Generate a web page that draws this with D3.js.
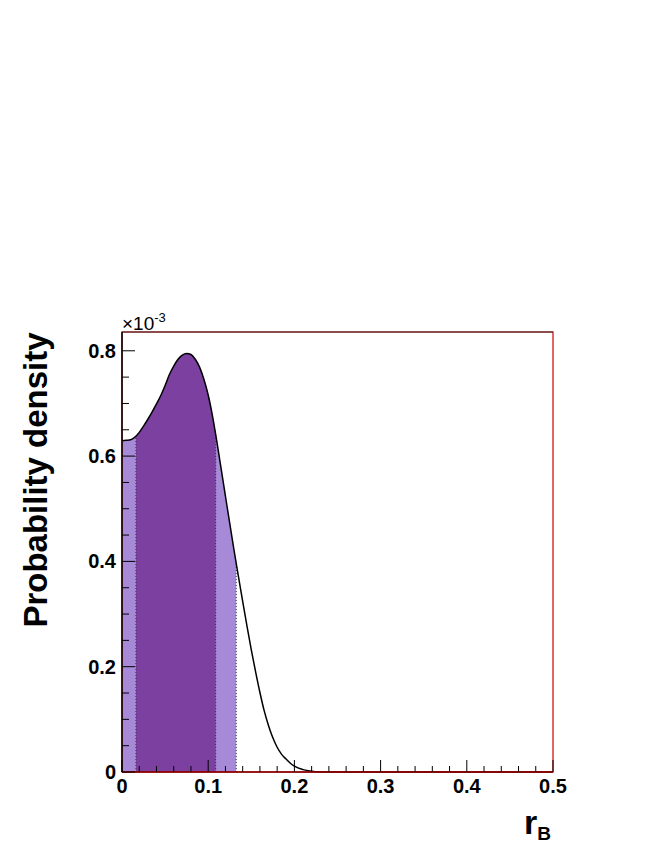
<!DOCTYPE html>
<html>
<head>
<meta charset="utf-8">
<script src="https://cdn.jsdelivr.net/npm/d3@7"></script>
<style>
  body { margin: 0; background: #fff; }
  text { font-family: "Liberation Sans", Arial, sans-serif; font-weight: bold; }
</style>
</head>
<body>
<svg width="664" height="860"></svg>
<script>
// r_B values and posterior density (units of 1e-3)
var rB = [0, 0.005, 0.01, 0.015, 0.02, 0.025, 0.03, 0.035, 0.04, 0.045, 0.05, 0.055, 0.06, 0.065,
  0.07, 0.075, 0.08, 0.085, 0.09, 0.095, 0.1, 0.105, 0.11, 0.115, 0.12, 0.125, 0.13, 0.135,
  0.14, 0.145, 0.15, 0.155, 0.16, 0.165, 0.17, 0.175, 0.18, 0.185, 0.19, 0.195, 0.2, 0.21,
  0.22, 0.23, 0.24, 0.3, 0.4, 0.5];
var density = [0.629, 0.630, 0.631, 0.636, 0.645, 0.657, 0.670, 0.684, 0.699, 0.715, 0.734, 0.755, 0.771, 0.784,
  0.792, 0.795, 0.793, 0.784, 0.769, 0.746, 0.716, 0.676, 0.628, 0.576, 0.524, 0.472, 0.421, 0.372,
  0.324, 0.277, 0.232, 0.190, 0.151, 0.116, 0.088, 0.065, 0.047, 0.034, 0.025, 0.017, 0.011, 0.0045,
  0.0015, 0.0003, 0, 0, 0, 0];

// credible intervals: [from, to]
var band95 = [0, 0.1325];
var band68 = [0.0162, 0.1087];

var xTicks = [0, 0.1, 0.2, 0.3, 0.4, 0.5];
var yTicks = [0, 0.2, 0.4, 0.6, 0.8];

var svg = d3.select("svg");
var pLeft = 122, pRight = 553, pTop = 332, pBottom = 772;

var x = d3.scaleLinear().domain([0, 0.5]).range([pLeft, pRight]);
var y = d3.scaleLinear().domain([0, 0.8357]).range([pBottom, pTop]);

var pts = rB.map(function(r, i) { return {r: r, v: density[i]}; });

function interp(r) {
  for (var i = 1; i < pts.length; i++) {
    if (r <= pts[i].r) {
      var a = pts[i - 1], b = pts[i];
      return a.v + (b.v - a.v) * (r - a.r) / (b.r - a.r);
    }
  }
  return 0;
}

function bandPoints(b) {
  var out = [{r: b[0], v: interp(b[0])}];
  pts.forEach(function(p) { if (p.r > b[0] && p.r < b[1]) out.push(p); });
  out.push({r: b[1], v: interp(b[1])});
  return out;
}

var area = d3.area()
  .x(function(d) { return x(d.r); })
  .y0(pBottom)
  .y1(function(d) { return y(d.v); })
  .curve(d3.curveMonotoneX);

// shaded regions
svg.append("path").datum(bandPoints(band95))
  .attr("d", area).attr("fill", "#a68ad8");
svg.append("path").datum(bandPoints(band68))
  .attr("d", area).attr("fill", "#7c40a0");

// dotted boundaries
[band95[1], band68[0], band68[1]].forEach(function(r) {
  svg.append("line")
    .attr("x1", x(r)).attr("x2", x(r))
    .attr("y1", pBottom).attr("y2", y(interp(r)))
    .attr("stroke", "#333").attr("stroke-width", 1)
    .attr("stroke-dasharray", "1,2");
});

// curve
var line = d3.line()
  .x(function(d) { return x(d.r); })
  .y(function(d) { return y(d.v); })
  .curve(d3.curveMonotoneX);
svg.append("path").datum(pts)
  .attr("d", line).attr("fill", "none")
  .attr("stroke", "#000").attr("stroke-width", 1.5);

// frame
svg.append("rect")
  .attr("x", pLeft).attr("y", pTop)
  .attr("width", pRight - pLeft).attr("height", pBottom - pTop)
  .attr("fill", "none").attr("stroke", "#d00000").attr("stroke-width", 1.2);
svg.append("line").attr("x1", pLeft).attr("x2", pRight).attr("y1", pTop).attr("y2", pTop)
  .attr("stroke", "#333").attr("stroke-width", 1);
svg.append("line").attr("x1", pLeft).attr("x2", pRight).attr("y1", pBottom).attr("y2", pBottom)
  .attr("stroke", "#800000").attr("stroke-width", 1.5);
svg.append("line").attr("x1", pLeft).attr("x2", pLeft).attr("y1", pTop).attr("y2", pBottom)
  .attr("stroke", "#000").attr("stroke-width", 1.5);

// x axis ticks (major every 0.1, minor every 0.02)
svg.append("g").selectAll("line")
  .data(d3.range(0, 26))
  .enter().append("line")
  .attr("x1", function(i) { return x(i * 0.02); })
  .attr("x2", function(i) { return x(i * 0.02); })
  .attr("y1", pBottom)
  .attr("y2", function(i) { return i % 5 === 0 ? pBottom - 12 : pBottom - 6; })
  .attr("stroke", "#000").attr("stroke-width", 1);

svg.append("g").selectAll("text")
  .data(xTicks)
  .enter().append("text")
  .attr("x", function(d) { return x(d); })
  .attr("y", 793)
  .attr("text-anchor", "middle")
  .attr("font-size", 20)
  .text(function(d) { return d === 0 ? "0" : d3.format(".1f")(d); });

// y axis ticks (major every 0.2, minor every 0.05)
svg.append("g").selectAll("line")
  .data(d3.range(0, 17))
  .enter().append("line")
  .attr("x1", pLeft)
  .attr("x2", function(i) { return i % 4 === 0 ? pLeft + 13 : pLeft + 7; })
  .attr("y1", function(i) { return y(i * 0.05); })
  .attr("y2", function(i) { return y(i * 0.05); })
  .attr("stroke", "#000").attr("stroke-width", 1);

svg.append("g").selectAll("text")
  .data(yTicks)
  .enter().append("text")
  .attr("x", 116)
  .attr("y", function(d) { return y(d) + 7; })
  .attr("text-anchor", "end")
  .attr("font-size", 20)
  .text(function(d) { return d === 0 ? "0" : d3.format(".1f")(d); });

// exponent label
var ex = svg.append("text").attr("x", 122).attr("y", 330)
  .attr("font-size", 19).style("font-weight", "normal");
ex.append("tspan").text("\u00d7");
ex.append("tspan").text("10");
ex.append("tspan").text("-3").attr("dy", -8).attr("font-size", 13);

// axis titles
svg.append("text")
  .attr("transform", "translate(47,480) rotate(-90)")
  .attr("text-anchor", "middle")
  .attr("font-size", 33)
  .text("Probability density");

var xt = svg.append("text").attr("x", 524).attr("y", 834).attr("font-size", 34);
xt.append("tspan").text("r");
xt.append("tspan").text("B").attr("dy", 6).attr("font-size", 19);
</script>
</body>
</html>
